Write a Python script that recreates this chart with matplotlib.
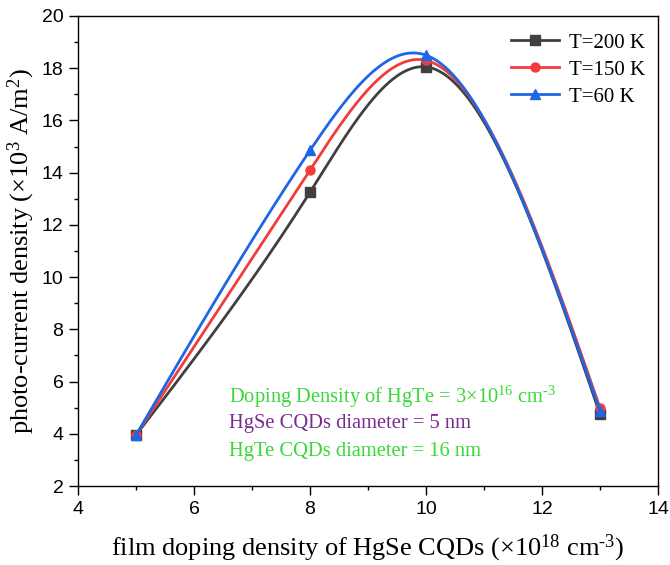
import numpy as np
import matplotlib
matplotlib.use("Agg")
import matplotlib.pyplot as plt
from matplotlib.ticker import MultipleLocator

plt.rcParams["mathtext.fontset"] = "custom"
plt.rcParams["mathtext.rm"] = "Liberation Serif"
plt.rcParams["mathtext.it"] = "Liberation Serif:italic"
plt.rcParams["mathtext.bf"] = "Liberation Serif:bold"

x_doping = [5, 8, 10, 13]
series_labels = ["T=200 K", "T=150 K", "T=60 K"]
j_200K = [3.95, 13.25, 18.05, 4.75]
j_150K = [3.95, 14.1, 18.3, 5.0]
j_60K = [3.95, 14.85, 18.5, 4.88]

def natural_spline(x, y, xs):
    x = np.asarray(x, float); y = np.asarray(y, float)
    n = len(x)
    h = np.diff(x)
    A = np.zeros((n, n)); b = np.zeros(n)
    A[0, 0] = 1; A[-1, -1] = 1
    for i in range(1, n - 1):
        A[i, i - 1] = h[i - 1]
        A[i, i] = 2 * (h[i - 1] + h[i])
        A[i, i + 1] = h[i]
        b[i] = 3 * ((y[i + 1] - y[i]) / h[i] - (y[i] - y[i - 1]) / h[i - 1])
    c = np.linalg.solve(A, b)
    out = np.empty_like(xs)
    for k, xv in enumerate(xs):
        i = min(max(np.searchsorted(x, xv) - 1, 0), n - 2)
        bi = (y[i + 1] - y[i]) / h[i] - h[i] * (2 * c[i] + c[i + 1]) / 3
        di = (c[i + 1] - c[i]) / (3 * h[i])
        dx = xv - x[i]
        out[k] = y[i] + bi * dx + c[i] * dx ** 2 + di * dx ** 3
    return out

fig = plt.figure(figsize=(6.7, 5.65), dpi=100)
ax = fig.add_axes([0.1164, 0.1398, 0.8656, 0.8319])

styles = [("#404040", "s"), ("#f23c3c", "o"), ("#1f66e5", "^")]
xs = np.linspace(5, 13, 400)
for ys, lab, (col, mk) in zip([j_200K, j_150K, j_60K], series_labels, styles):
    ax.plot(xs, natural_spline(x_doping, ys, xs), color=col, lw=2)
    ax.plot(x_doping, ys, linestyle="none", marker=mk, color=col, ms=6.5)
    ax.plot([], [], color=col, lw=2, marker=mk, ms=6.5, label=lab)

ax.set_xlim(4, 14)
ax.set_ylim(2, 20)
ax.xaxis.set_major_locator(MultipleLocator(2))
ax.xaxis.set_minor_locator(MultipleLocator(1))
ax.yaxis.set_major_locator(MultipleLocator(2))
ax.yaxis.set_minor_locator(MultipleLocator(1))
ax.tick_params(which="both", direction="out", top=False, right=False)
ax.tick_params(which="major", length=6.5, width=1, labelsize=14, pad=4)
ax.tick_params(which="minor", length=3, width=1)
for lab in ax.get_xticklabels() + ax.get_yticklabels():
    lab.set_family(["Liberation Sans", "DejaVu Sans"])
for s in ax.spines.values():
    s.set_linewidth(1)

serif = ["Liberation Serif", "DejaVu Serif"]
ax.set_xlabel("film doping density of HgSe CQDs (\u00d710$^{18}$ cm$^{\u20103}$)",
              family=serif, fontsize=19, labelpad=11)
ax.set_ylabel("photo-current density (\u00d710$^{3}$ A/m$^{2}$)",
              family=serif, fontsize=19, labelpad=3)

leg = ax.legend(loc="upper right", bbox_to_anchor=(1.0, 0.99), frameon=False,
                handlelength=2.3, prop={"family": serif, "size": 15},
                borderaxespad=0.2, labelspacing=0.35, handletextpad=0.5)

ax.text(6.6, 5.42, "Doping Density of HgTe = 3\u00d710$^{16}$ cm$^{\u20103}$",
        color="#38d838", family=serif, fontsize=14.8, va="center")
ax.text(6.6, 4.38, "HgSe CQDs diameter = 5 nm",
        color="#7b2a90", family=serif, fontsize=14.8, va="center")
ax.text(6.6, 3.33, "HgTe CQDs diameter = 16 nm",
        color="#38d838", family=serif, fontsize=14.8, va="center")

fig.savefig("out.png", dpi=100)
